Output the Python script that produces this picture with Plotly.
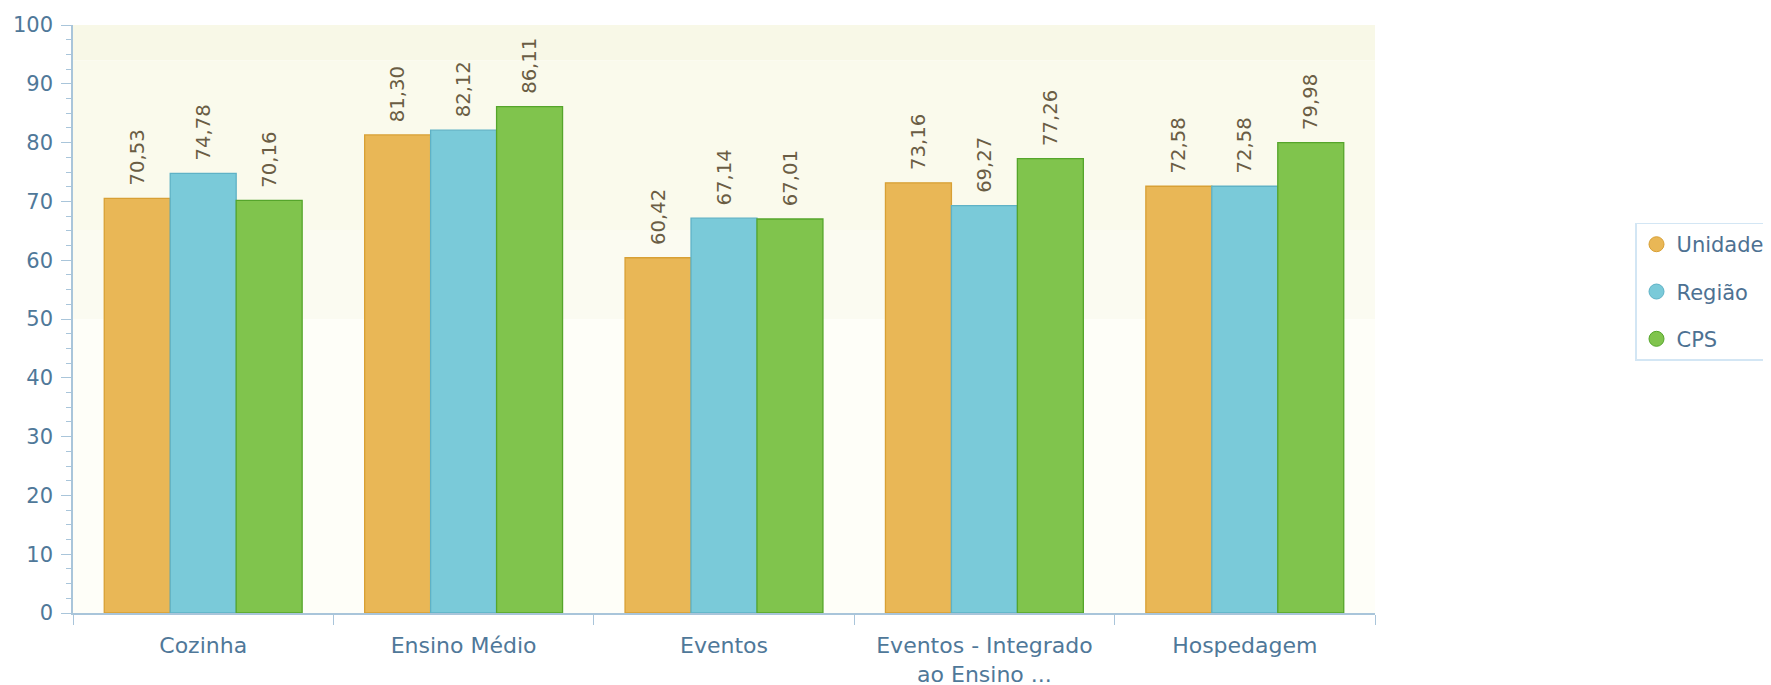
import plotly.graph_objects as go

categories = ["Cozinha", "Ensino Médio", "Eventos", "Eventos - Integrado<br>ao Ensino ...", "Hospedagem"]
unidade = [70.53, 81.30, 60.42, 73.16, 72.58]
regiao = [74.78, 82.12, 67.14, 69.27, 72.58]
cps = [70.16, 86.11, 67.01, 77.26, 79.98]
series_names = ["Unidade", "Região", "CPS"]

fills = ["#e9b756", "#7acad9", "#80c44d"]
lines = ["#d8a035", "#5fb2c6", "#55a52b"]

def fmt(v):
    return "\u2002" + f"{v:.2f}".replace(".", ",")

fig = go.Figure()

# background bands
bands = [(94, 100, "#f8f8e7"), (65, 94, "#fafaec"), (50, 65, "#fbfbf1"), (0, 50, "#fefef8")]
for y0, y1, c in bands:
    fig.add_shape(type="rect", xref="x domain", yref="y", x0=0, x1=1, y0=y0, y1=y1,
                  fillcolor=c, line_width=0, layer="below")

for name, vals, fc, lc in zip(series_names, [unidade, regiao, cps], fills, lines):
    fig.add_trace(go.Bar(
        x=categories, y=vals, name=name, showlegend=False,
        marker=dict(color=fc, line=dict(color=lc, width=1.3)),
        text=[fmt(v) for v in vals], textposition="outside", textangle=-90,
        textfont=dict(family="DejaVu Sans", size=24, color="#6a5d44"),
        cliponaxis=False,
    ))

for name, fc, lc in zip(series_names, fills, lines):
    fig.add_trace(go.Scatter(
        x=[None], y=[None], mode="markers", name=name, legendgroup=name,
        marker=dict(symbol="circle", size=15, color=fc, line=dict(color=lc, width=1)),
    ))

fig.update_layout(
    width=1771, height=685,
    margin=dict(l=65, r=404, t=17, b=80, autoexpand=False),
    paper_bgcolor="white", plot_bgcolor="white",
    barmode="group", bargap=0.24, bargroupgap=0,
    font=dict(family="DejaVu Sans", size=20, color="#4f7899"),
    legend=dict(x=1.1997, y=0.664, xanchor="left", yanchor="top",
                bordercolor="#d3e6f4", borderwidth=1.5, bgcolor="white",
                font=dict(family="DejaVu Sans", size=21, color="#4d7192"),
                tracegroupgap=17, itemsizing="trace"),
)
fig.update_xaxes(
    showline=True, linecolor="#a9c5da", linewidth=1.5,
    ticks="outside", tickson="boundaries", ticklen=10, tickcolor="#a9c5da",
    ticklabelstandoff=12,
    showgrid=False, tickfont=dict(family="DejaVu Sans", size=22, color="#4f7899"),
)
fig.update_yaxes(
    range=[0, 100], dtick=10, showline=True, linecolor="#a9c5da", linewidth=1.5,
    ticks="outside", ticklen=10, tickcolor="#a9c5da", showgrid=False, zeroline=False,
    ticklabelstandoff=4,
    minor=dict(dtick=2.5, ticks="outside", ticklen=5, tickcolor="#a9c5da", showgrid=False),
    tickfont=dict(family="DejaVu Sans", size=21, color="#4f7899"),
)

fig.write_html("out.html")
